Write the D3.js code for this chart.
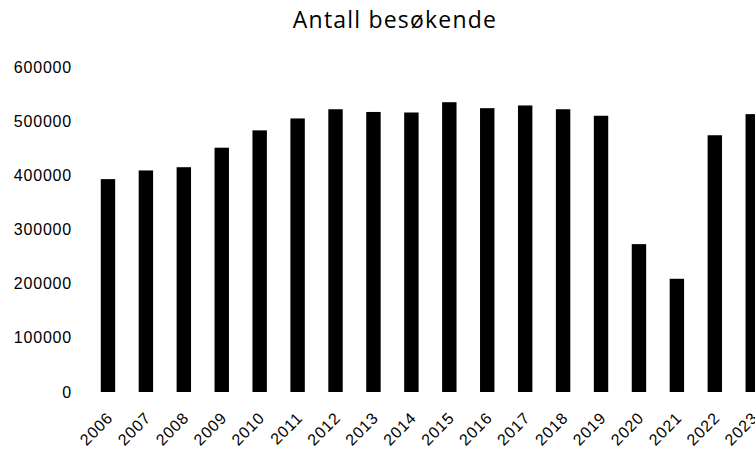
<!DOCTYPE html>
<html>

<head>
    <meta charset="utf-8">
    <style>
        body {
            margin: 0;
            background: #fff;
        }

        svg {
            display: block;
            font-family: 'Open Sans', sans-serif;
        }

        .title {
            font-size: 23px;
            fill: #000;
        }

        .axis .domain,
        .axis .tick line {
            display: none;
        }

        .axis .tick text {
            font-size: 16px;
            letter-spacing: 0.8px;
            fill: #000;
        }
    </style>
</head>

<body>
    <svg width="755" height="449"></svg>
</body>

<script src="https://d3js.org/d3.v7.min.js"></script>

<script>

    // data
    let years = ["2006", "2007", "2008", "2009", "2010", "2011", "2012", "2013", "2014",
        "2015", "2016", "2017", "2018", "2019", "2020", "2021", "2022", "2023"];
    let visitors = [393000, 409000, 415000, 451000, 483000, 505000, 522000, 517000, 516000,
        535000, 524000, 529000, 522000, 510000, 273000, 209000, 474000, 513000];
    let yTicks = [0, 100000, 200000, 300000, 400000, 500000, 600000];
    let titleText = "Antall besøkende";

    let width = 755;
    let height = 449;

    let data = years.map((y, i) => ({ year: y, value: visitors[i] }));

    let svg = d3.select("svg");

    // plot runs past the right edge, so the last bar gets cut off like in the original
    let x = d3.scaleBand()
        .domain(years)
        .range([89, 771.7])
        .paddingInner(0.62)
        .paddingOuter(0.31);

    let y = d3.scaleLinear()
        .domain([0, 600000])
        .range([392, 67]);

    svg.append("text")
        .attr("class", "title")
        .attr("x", 395)
        .attr("y", 28)
        .attr("text-anchor", "middle")
        .style("letter-spacing", "1.2px")
        .text(titleText);

    let yAxis = d3.axisLeft(y)
        .tickValues(yTicks)
        .tickFormat(d => String(d))
        .tickSize(0)
        .tickPadding(0);

    svg.append("g")
        .attr("class", "y axis")
        .attr("transform", "translate(72,0)")
        .call(yAxis);

    let xAxis = d3.axisBottom(x)
        .tickSize(0)
        .tickPadding(0);

    let xg = svg.append("g")
        .attr("class", "x axis")
        .attr("transform", "translate(0,392)")
        .call(xAxis);

    xg.selectAll(".tick text")
        .attr("dy", null)
        .attr("y", null)
        .attr("text-anchor", "end")
        .attr("transform", "translate(6,27) rotate(-45)");

    svg.append("g")
        .selectAll("rect")
        .data(data)
        .join("rect")
        .attr("x", d => x(d.year))
        .attr("width", x.bandwidth())
        .attr("y", d => y(d.value))
        .attr("height", d => y(0) - y(d.value))
        .style("fill", "#000");

</script>

</html>
